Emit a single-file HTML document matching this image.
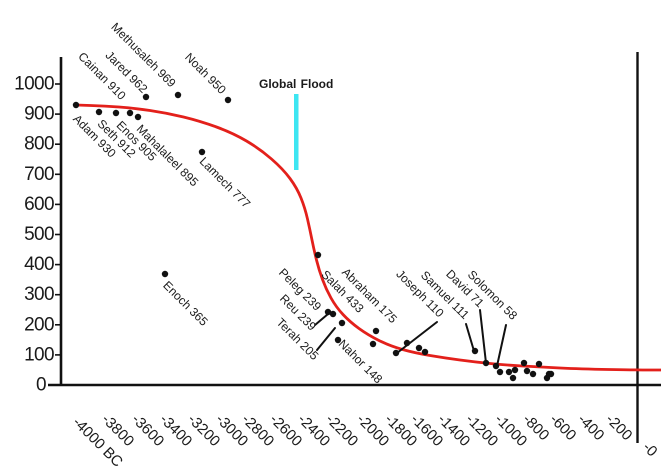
<!DOCTYPE html>
<html>
<head>
<meta charset="utf-8">
<style>
  html,body{margin:0;padding:0;background:#fff;}
  svg{display:block;}
  text{font-family:"Liberation Sans",Arial,sans-serif;fill:#1a1a1a;}
</style>
</head>
<body>
<svg width="661" height="476" viewBox="0 0 661 476" xmlns="http://www.w3.org/2000/svg">
  <rect width="661" height="476" fill="#fff"/>

  <!-- axes -->
  <line x1="61" y1="57" x2="61" y2="386" stroke="#111" stroke-width="2.6"/>
  <line x1="48" y1="385" x2="661" y2="385" stroke="#111" stroke-width="2.6"/>
  <line x1="637.5" y1="52" x2="637.5" y2="443" stroke="#111" stroke-width="2.4"/>

  <!-- y ticks -->
  <g stroke="#111" stroke-width="1.6">
    <line x1="55" y1="84" x2="61" y2="84"/>
    <line x1="55" y1="114.1" x2="61" y2="114.1"/>
    <line x1="55" y1="144.2" x2="61" y2="144.2"/>
    <line x1="55" y1="174.3" x2="61" y2="174.3"/>
    <line x1="55" y1="204.4" x2="61" y2="204.4"/>
    <line x1="55" y1="234.5" x2="61" y2="234.5"/>
    <line x1="55" y1="264.6" x2="61" y2="264.6"/>
    <line x1="55" y1="294.7" x2="61" y2="294.7"/>
    <line x1="55" y1="324.8" x2="61" y2="324.8"/>
    <line x1="55" y1="354.9" x2="61" y2="354.9"/>
  </g>

  <!-- y labels -->
  <g font-size="19" text-anchor="end" dominant-baseline="central" letter-spacing="-0.6">
    <text x="54" y="84">1000</text>
    <text x="54" y="114.1">900</text>
    <text x="54" y="144.2">800</text>
    <text x="54" y="174.3">700</text>
    <text x="54" y="204.4">600</text>
    <text x="54" y="234.5">500</text>
    <text x="54" y="264.6">400</text>
    <text x="54" y="294.7">300</text>
    <text x="54" y="324.8">200</text>
    <text x="54" y="354.9">100</text>
    <text x="46" y="385">0</text>
  </g>

  <!-- x labels -->
  <g font-size="15">
    <text transform="translate(72,423) rotate(45)">-4000 BC</text>
    <text transform="translate(101,420) rotate(45)">-3800</text>
    <text transform="translate(131,420) rotate(45)">-3600</text>
    <text transform="translate(159,420) rotate(45)">-3400</text>
    <text transform="translate(187,420) rotate(45)">-3200</text>
    <text transform="translate(215,420) rotate(45)">-3000</text>
    <text transform="translate(241,420) rotate(45)">-2800</text>
    <text transform="translate(269,420) rotate(45)">-2600</text>
    <text transform="translate(297,420) rotate(45)">-2400</text>
    <text transform="translate(325,420) rotate(45)">-2200</text>
    <text transform="translate(356,420) rotate(45)">-2000</text>
    <text transform="translate(384,420) rotate(45)">-1800</text>
    <text transform="translate(410,420) rotate(45)">-1600</text>
    <text transform="translate(437,420) rotate(45)">-1400</text>
    <text transform="translate(465,420) rotate(45)">-1200</text>
    <text transform="translate(494,420) rotate(45)">-1000</text>
    <text transform="translate(522,420) rotate(45)">-800</text>
    <text transform="translate(549,420) rotate(45)">-600</text>
    <text transform="translate(577,420) rotate(45)">-400</text>
    <text transform="translate(605,420) rotate(45)">-200</text>
    <text transform="translate(642,448) rotate(45)">-0</text>
  </g>

  <!-- global flood -->
  <rect x="294" y="94" width="4.5" height="76" fill="#3de6f2"/>
  <text x="259" y="88" font-size="12" font-weight="bold" word-spacing="1">Global Flood</text>

  <!-- red curve -->
  <path fill="none" stroke="#e3201b" stroke-width="2.8" stroke-linejoin="round" stroke-linecap="round"
    d="M76,105 L90.5,105.5 Q105,106 119,107 Q133,108 150,110.5 Q167,113 183.5,117 Q200,121 216.5,127 Q233,133 246.5,141 Q260,149 271.5,159 Q283,169 290,178.5 Q297,188 301,198 Q305,208 307.5,219 Q310,230 312,240 Q314,250 316.5,260 Q319,270 322.5,279.5 Q326,289 331,298 Q336,307 343,314.5 Q350,322 359,328.5 Q368,335 379,340.5 Q390,346 402.5,349.5 Q415,353 430,355.5 Q445,358 460,360 Q475,362 490,363.5 Q505,365 522.5,366 Q540,367 560,368 Q580,369 608.5,369.5 Q637,370 649,370 L661,370"/>

  <!-- leader lines -->
  <g stroke="#111" stroke-width="2" stroke-linecap="round">
    <line x1="315" y1="325" x2="328" y2="314"/>
    <line x1="317" y1="350" x2="335" y2="328"/>
    <line x1="437" y1="322" x2="397" y2="353"/>
    <line x1="466" y1="324" x2="474" y2="351"/>
    <line x1="480" y1="310" x2="486" y2="363"/>
    <line x1="506" y1="325" x2="497" y2="366"/>
  </g>

  <!-- dots -->
  <g fill="#111">
    <circle cx="76" cy="105" r="3.2"/>
    <circle cx="99" cy="112" r="3.2"/>
    <circle cx="116" cy="113" r="3.2"/>
    <circle cx="130" cy="113" r="3.2"/>
    <circle cx="138" cy="117" r="3.2"/>
    <circle cx="146" cy="97" r="3.2"/>
    <circle cx="178" cy="95" r="3.2"/>
    <circle cx="228" cy="100" r="3.2"/>
    <circle cx="202" cy="152" r="3.2"/>
    <circle cx="165" cy="274" r="3.2"/>
    <circle cx="318" cy="255" r="3.2"/>
    <circle cx="328" cy="312" r="3.2"/>
    <circle cx="333" cy="314" r="3.2"/>
    <circle cx="342" cy="323" r="3.2"/>
    <circle cx="338" cy="340" r="3.2"/>
    <circle cx="376" cy="331" r="3.2"/>
    <circle cx="373" cy="344" r="3.2"/>
    <circle cx="396" cy="353" r="3.2"/>
    <circle cx="407" cy="343" r="3.2"/>
    <circle cx="419" cy="348" r="3.2"/>
    <circle cx="425" cy="352" r="3.2"/>
    <circle cx="475" cy="351" r="3.2"/>
    <circle cx="486" cy="363" r="3.2"/>
    <circle cx="496" cy="366" r="3.2"/>
    <circle cx="500" cy="372" r="3.2"/>
    <circle cx="509" cy="372" r="3.2"/>
    <circle cx="515" cy="370" r="3.2"/>
    <circle cx="513" cy="378" r="3.2"/>
    <circle cx="524" cy="363" r="3.2"/>
    <circle cx="527" cy="371" r="3.2"/>
    <circle cx="533" cy="374" r="3.2"/>
    <circle cx="539" cy="364" r="3.2"/>
    <circle cx="547" cy="378" r="3.2"/>
    <circle cx="549" cy="374" r="3.2"/>
    <circle cx="551" cy="374" r="3.2"/>
  </g>

  <!-- data labels -->
  <g font-size="12" text-anchor="middle" dominant-baseline="central">
    <text transform="translate(102,76) rotate(45)">Cainan 910</text>
    <text transform="translate(126.5,72) rotate(45)">Jared 962</text>
    <text transform="translate(143.5,55) rotate(45)">Methusaleh 969</text>
    <text transform="translate(205.5,73.5) rotate(45)">Noah 950</text>
    <text transform="translate(94.5,136) rotate(45)">Adam 930</text>
    <text transform="translate(116.5,138.5) rotate(45)">Seth 912</text>
    <text transform="translate(136.5,141) rotate(45)">Enos 905</text>
    <text transform="translate(167.5,155.5) rotate(45)">Mahalaleel 895</text>
    <text transform="translate(225,182.5) rotate(45)">Lamech 777</text>
    <text transform="translate(185.5,303.5) rotate(45)">Enoch 365</text>
    <text transform="translate(300,289.5) rotate(45)">Peleg 239</text>
    <text transform="translate(298,312.5) rotate(45)">Reu 239</text>
    <text transform="translate(297.5,339) rotate(45)">Terah 205</text>
    <text transform="translate(342.5,291.5) rotate(45)">Salah 433</text>
    <text transform="translate(369.5,295.5) rotate(45)">Abraham 175</text>
    <text transform="translate(360.5,361.5) rotate(45)">Nahor 148</text>
    <text transform="translate(420,293.5) rotate(45)">Joseph 110</text>
    <text transform="translate(445,295) rotate(45)">Samuel 111</text>
    <text transform="translate(465,288.5) rotate(45)">David 71</text>
    <text transform="translate(492.5,295) rotate(45)">Solomon 58</text>
  </g>
</svg>
</body>
</html>
